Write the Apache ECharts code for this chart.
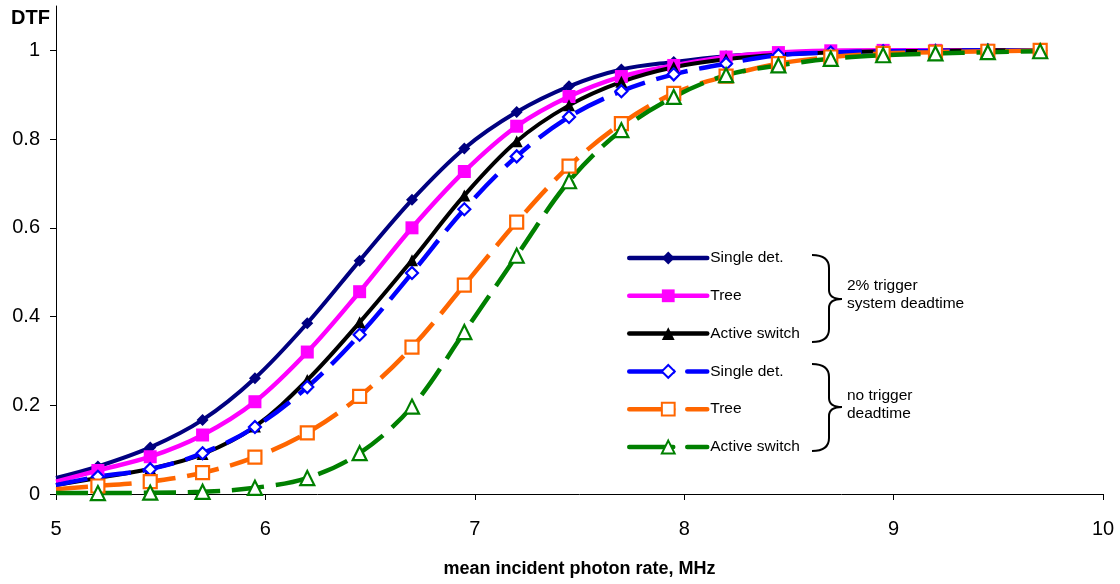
<!DOCTYPE html>
<html>
<head>
    <meta charset="utf-8">
    <title>DTF vs mean incident photon rate</title>
    <style>
        html, body { margin: 0; padding: 0; background: #fff; }
        #main { width: 1120px; height: 584px; }
    </style>
</head>
<body>
<div id="main"></div>
<script src="https://cdn.jsdelivr.net/npm/echarts@6/dist/echarts.min.js"></script>
<script>
    // x values, MHz (first point only starts the curve at the axis, no marker)
    var rates = [5.0, 5.2, 5.45, 5.7, 5.95, 6.2, 6.45, 6.7, 6.95, 7.2, 7.45, 7.7, 7.95, 8.2, 8.45, 8.7, 8.95, 9.2, 9.45, 9.7];

    // 2% trigger system deadtime
    var singleDet2 = [0.036, 0.062, 0.105, 0.167, 0.261, 0.385, 0.526, 0.663, 0.779, 0.861, 0.919, 0.957, 0.974, 0.987, 0.994, 0.997, 0.998, 0.999, 1.0, 1.0];
    var tree2 = [0.028, 0.053, 0.084, 0.133, 0.208, 0.320, 0.456, 0.600, 0.727, 0.829, 0.896, 0.941, 0.966, 0.985, 0.995, 0.999, 1.0, 1.0, 1.0, 1.0];
    var activeSwitch2 = [0.020, 0.036, 0.057, 0.090, 0.152, 0.257, 0.387, 0.527, 0.673, 0.795, 0.876, 0.929, 0.962, 0.980, 0.990, 0.995, 0.998, 0.999, 1.0, 1.0];

    // no trigger deadtime
    var singleDet0 = [0.020, 0.039, 0.056, 0.092, 0.151, 0.241, 0.359, 0.498, 0.642, 0.761, 0.850, 0.908, 0.946, 0.970, 0.989, 0.995, 0.998, 0.999, 1.0, 1.0];
    var tree0 = [0.011, 0.018, 0.028, 0.048, 0.083, 0.138, 0.220, 0.331, 0.471, 0.613, 0.739, 0.835, 0.903, 0.942, 0.970, 0.985, 0.993, 0.996, 0.998, 1.0];
    var activeSwitch0 = [0.002, 0.002, 0.003, 0.005, 0.014, 0.036, 0.092, 0.197, 0.365, 0.537, 0.705, 0.820, 0.895, 0.944, 0.966, 0.981, 0.989, 0.993, 0.996, 0.998];

    var yTicks = [0, 0.2, 0.4, 0.6, 0.8, 1];
    var xTicks = [5, 6, 7, 8, 9, 10];

    var FONT = 'Arial, "Liberation Sans", sans-serif';

    function pairs(vals) {
        var out = [];
        for (var i = 0; i < rates.length; i++) {
            var p = { value: [rates[i], vals[i]] };
            if (i === 0) p.symbol = 'none';
            out.push(p);
        }
        return out;
    }

    function line(name, vals, color, symbol, size, hollow, dashed, width) {
        return {
            name: name,
            type: 'line',
            smooth: 0.35,
            data: pairs(vals),
            symbol: symbol,
            symbolSize: size,
            showAllSymbol: true,
            lineStyle: { color: color, width: width, type: dashed ? [32, 12] : 'solid', cap: 'butt' },
            itemStyle: hollow ? { color: '#fff', borderColor: color, borderWidth: 2.2 } : { color: color, borderWidth: 0 },
            emphasis: { disabled: true }
        };
    }

    // legend entry: thick line, the dashed ones get one long dash + short dash like the original
    function legendItem(name, dashed) {
        return {
            name: name,
            lineStyle: { width: 4.5, type: dashed ? [44, 14] : 'solid', cap: 'round' }
        };
    }

    // curly brace "}" made of simple graphic pieces
    function brace(x, top, mid, bottom) {
        var st = { stroke: '#000', lineWidth: 2, fill: 'none' };
        var xr = x + 17, tip = x + 30;
        return [
            { type: 'bezierCurve', shape: { x1: x, y1: top, cpx1: xr, cpy1: top, x2: xr, y2: top + 13 }, style: st },
            { type: 'line', shape: { x1: xr, y1: top + 13, x2: xr, y2: mid - 9 }, style: st },
            { type: 'bezierCurve', shape: { x1: xr, y1: mid - 9, cpx1: xr, cpy1: mid, x2: tip, y2: mid }, style: st },
            { type: 'bezierCurve', shape: { x1: tip, y1: mid, cpx1: xr, cpy1: mid, x2: xr, y2: mid + 9 }, style: st },
            { type: 'line', shape: { x1: xr, y1: mid + 9, x2: xr, y2: bottom - 13 }, style: st },
            { type: 'bezierCurve', shape: { x1: xr, y1: bottom - 13, cpx1: xr, cpy1: bottom, x2: x, y2: bottom }, style: st }
        ];
    }

    var myChart = echarts.init(document.getElementById('main'), null, { renderer: 'canvas' });

    var graphics = brace(812, 255, 299, 342).concat(brace(812, 364, 407, 451));
    graphics.push({
        type: 'text', left: 847, top: 277,
        style: { text: '2% trigger\nsystem deadtime', fontSize: 15.5, lineHeight: 18, fill: '#000', fontFamily: FONT }
    });
    graphics.push({
        type: 'text', left: 847, top: 387,
        style: { text: 'no trigger\ndeadtime', fontSize: 15.5, lineHeight: 18, fill: '#000', fontFamily: FONT }
    });

    var option = {
        animation: false,
        backgroundColor: '#fff',
        textStyle: { fontFamily: FONT },
        grid: { left: 56, right: 17, top: 6, bottom: 90 },
        xAxis: {
            type: 'value',
            min: 5, max: 10, interval: 1,
            name: 'mean incident photon rate, MHz',
            nameLocation: 'middle',
            nameGap: 66,
            nameTextStyle: { fontSize: 18, fontWeight: 'bold', color: '#000', fontFamily: FONT },
            axisLine: { lineStyle: { color: '#000', width: 1 } },
            axisTick: { show: true, inside: false, length: 6, lineStyle: { color: '#000' }, customValues: xTicks },
            axisLabel: { fontSize: 20, color: '#000', margin: 25, fontFamily: FONT, customValues: xTicks },
            splitLine: { show: false }
        },
        yAxis: {
            type: 'value',
            min: 0, max: 1.1,
            name: 'DTF',
            nameLocation: 'end',
            nameGap: -12,
            nameTextStyle: { fontSize: 20, fontWeight: 'bold', color: '#000', fontFamily: FONT, align: 'right', verticalAlign: 'middle', padding: [0, 6, 0, 0] },
            axisLine: { show: true, lineStyle: { color: '#000', width: 1 } },
            axisTick: { show: true, inside: false, length: 6, lineStyle: { color: '#000' }, customValues: yTicks },
            axisLabel: { fontSize: 20, color: '#000', margin: 16, fontFamily: FONT, customValues: yTicks },
            splitLine: { show: false }
        },
        legend: {
            orient: 'vertical',
            left: 627,
            top: 250,
            padding: 0,
            itemWidth: 78,
            itemHeight: 16,
            itemGap: 21.8,
            textStyle: { fontSize: 15.5, color: '#000', fontFamily: FONT, padding: [0, 0, 0, -2] },
            selectedMode: false,
            data: [
                legendItem('Single det.', false),
                legendItem('Tree', false),
                legendItem('Active switch', false),
                legendItem('Single det. ', true),
                legendItem('Tree ', true),
                legendItem('Active switch ', true)
            ]
        },
        series: [
            line('Single det.', singleDet2, '#000080', 'diamond', 12, false, false, 4),
            line('Tree', tree2, '#ff00ff', 'rect', 13, false, false, 4.5),
            line('Active switch', activeSwitch2, '#000000', 'triangle', 12, false, false, 4),
            line('Single det. ', singleDet0, '#0000ff', 'diamond', 12, true, true, 4.5),
            line('Tree ', tree0, '#ff6600', 'rect', 13, true, true, 4.5),
            line('Active switch ', activeSwitch0, '#008000', 'triangle', 14, true, true, 4.5)
        ],
        graphic: graphics
    };

    myChart.setOption(option);
</script>
</body>
</html>
